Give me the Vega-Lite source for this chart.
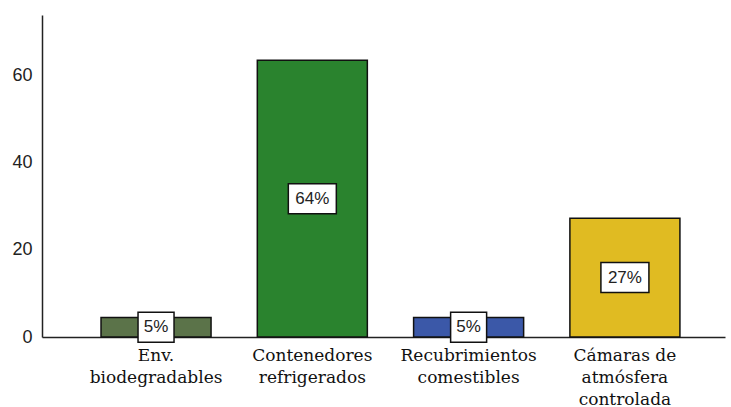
{
  "$schema": "https://vega.github.io/schema/vega-lite/v6.json",
  "autosize": "none",
  "width": 683,
  "height": 322,
  "padding": {"left": 42, "top": 15, "right": 6, "bottom": 70},
  "background": "white",
  "config": {"view": {"stroke": null}},
  "data": {
    "values": [
      {"cat": "Env.|biodegradables", "value": 4.5, "label": "5%"},
      {"cat": "Contenedores|refrigerados", "value": 63.6, "label": "64%"},
      {"cat": "Recubrimientos|comestibles", "value": 4.5, "label": "5%"},
      {"cat": "Cámaras de|atmósfera|controlada", "value": 27.3, "label": "27%"}
    ]
  },
  "encoding": {
    "x": {
      "field": "cat",
      "type": "nominal",
      "sort": null,
      "scale": {"paddingInner": 0.296, "paddingOuter": 0.333, "align": 0.567},
      "axis": {
        "title": null,
        "labelAngle": 0,
        "labelExpr": "split(datum.label, '|')",
        "labelFont": "DejaVu Serif",
        "labelFontSize": 17,
        "labelLineHeight": 22,
        "labelColor": "#111",
        "labelPadding": 10,
        "ticks": false,
        "domainColor": "#222",
        "domainWidth": 1.5
      }
    }
  },
  "layer": [
    {
      "mark": {"type": "bar", "stroke": "#111", "strokeWidth": 1.5},
      "encoding": {
        "y": {
          "field": "value",
          "type": "quantitative",
          "scale": {"domain": [0, 74], "nice": false},
          "axis": {
            "title": null,
            "values": [0, 20, 40, 60],
            "grid": false,
            "ticks": false,
            "labelFont": "Liberation Sans",
            "labelFontSize": 18,
            "labelColor": "#222",
            "labelPadding": 10,
            "domainColor": "#222",
            "domainWidth": 1.5
          }
        },
        "color": {
          "field": "cat",
          "type": "nominal",
          "sort": null,
          "scale": {"range": ["#5b7349", "#2a832e", "#3b58a8", "#e0bb22"]},
          "legend": null
        }
      }
    },
    {
      "transform": [{"calculate": "datum.value / 2", "as": "mid"}],
      "mark": {
        "type": "point",
        "size": 2304,
        "filled": true,
        "fill": "white",
        "stroke": "#111",
        "strokeWidth": 1.5,
        "opacity": 1
      },
      "encoding": {
        "y": {"field": "mid", "type": "quantitative"},
        "shape": {
          "condition": {"test": "length(datum.label) == 2", "value": "M-0.75,-0.625L0.75,-0.625L0.75,0.625L-0.75,0.625Z"},
          "value": "M-1,-0.625L1,-0.625L1,0.625L-1,0.625Z"
        }
      }
    },
    {
      "transform": [{"calculate": "datum.value / 2", "as": "mid"}],
      "mark": {
        "type": "text",
        "font": "Liberation Sans",
        "fontSize": 17,
        "color": "#222",
        "baseline": "middle",
        "align": "center"
      },
      "encoding": {
        "y": {"field": "mid", "type": "quantitative"},
        "text": {"field": "label"}
      }
    }
  ]
}
